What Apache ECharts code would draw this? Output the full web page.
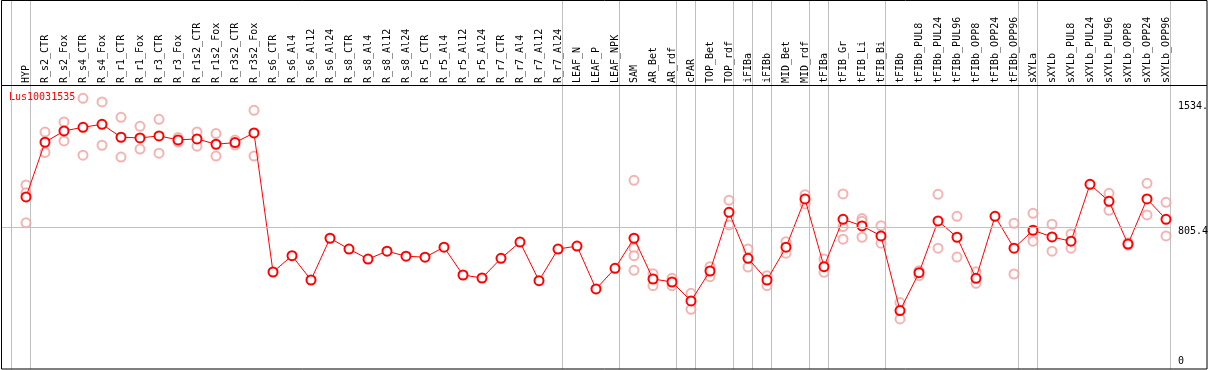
<!DOCTYPE html>
<html>
<head>
<meta charset="utf-8">
<script src="https://cdn.jsdelivr.net/npm/echarts@6/dist/echarts.min.js"></script>
<style>html,body{margin:0;padding:0;background:#fff}#c{width:1209px;height:370px}</style>
</head>
<body>
<div id="c"></div>
<script>
const categories = ["HYP","R_s2_CTR","R_s2_Fox","R_s4_CTR","R_s4_Fox","R_r1_CTR","R_r1_Fox","R_r3_CTR","R_r3_Fox","R_r1s2_CTR","R_r1s2_Fox","R_r3s2_CTR","R_r3s2_Fox","R_s6_CTR","R_s6_Al4","R_s6_Al12","R_s6_Al24","R_s8_CTR","R_s8_Al4","R_s8_Al12","R_s8_Al24","R_r5_CTR","R_r5_Al4","R_r5_Al12","R_r5_Al24","R_r7_CTR","R_r7_Al4","R_r7_Al12","R_r7_Al24","LEAF_N","LEAF_P","LEAF_NPK","SAM","AR_Bet","AR_rdf","cPAR","TOP_Bet","TOP_rdf","iFIBa","iFIBb","MID_Bet","MID_rdf","tFIBa","tFIB_Gr","tFIB_Li","tFIB_Bi","tFIBb","tFIBb_PUL8","tFIBb_PUL24","tFIBb_PUL96","tFIBb_OPP8","tFIBb_OPP24","tFIBb_OPP96","sXYLa","sXYLb","sXYLb_PUL8","sXYLb_PUL24","sXYLb_PUL96","sXYLb_OPP8","sXYLb_OPP24","sXYLb_OPP96"];

const meanValues = [990,1319,1387,1409,1427,1349,1345,1357,1333,1339,1307,1317,1375,
  539,637,491,742,677,617,664,634,628,688,521,503,621,719,487,677,695,437,561,
  742,497,479,365,545,898,621,491,688,978,571,856,816,756,
  307,535,846,748,501,874,682,790,750,724,1066,964,707,978,856];

const replicates = [[1062,1015,835],[1380,1258],[1441,1327],[1583,1241],[1561,1301],[1469,1230],[1415,1278],[1457,1253],[1347,1320],[1381,1295],[1371,1236],[1332,1302],[1511,1236],
  [],[],[],[],[],[],[],[],[],[],[],[],[],[],[],[],[],[],[],
  [1090,682,637,549],[529,457],[501,457],[411,315],[571,511],[970,822],[677,569],[517,457],[721,652],[1004,948],[617,537],[1008,812,736],[860,844,748],[817,712],
  [355,257],[547,517],[1006,682],[874,629],[541,471],[],[832,527],[892,760,724],[826,664],[768,682],[],[1012,910],[715,700],[1072,882],[958,756]];

const separatorsAfter = [-1,0,28,31,34,35,37,38,39,41,42,45,52,53,60];
const axisMarks = [{value:1534, label:"1534."},{value:805.4, label:"805.4"},{value:0, label:"0"}];
const seriesName = "Lus10031535";

const mono = "DejaVu Sans Mono";
const X_MIN = -25/19, X_MAX = 60 + 4/19, Y_MIN = -44, Y_MAX = 2174;
const mainData = meanValues.map((v,i)=>[i,v]);
const repData = [];
replicates.forEach((arr,i)=>arr.forEach(v=>repData.push([i,v])));
const sepLines = separatorsAfter.map(i=>({coords:[[i+4/19,Y_MIN],[i+4/19,Y_MAX]]}));

const chart = echarts.init(document.getElementById('c'), null, {renderer:'canvas'});
chart.setOption({
  animation:false,
  backgroundColor:'#fff',
  title:{text:seriesName,left:9,top:92,padding:0,textStyle:{color:'#ff0000',fontSize:10,fontWeight:'normal',fontFamily:mono}},
  grid:[
    {left:1,right:39,top:0,bottom:1,show:false},
    {left:16.5,right:33.5,top:85,bottom:1,show:false}
  ],
  xAxis:[
    {type:'value',gridIndex:0,min:X_MIN,max:X_MAX,show:false},
    {type:'category',gridIndex:1,position:'top',data:categories,boundaryGap:true,
     axisLine:{show:false},axisTick:{show:false},splitLine:{show:false},
     axisLabel:{rotate:90,interval:0,margin:2,fontSize:10,fontFamily:mono,color:'#000'}}
  ],
  yAxis:[
    {type:'value',gridIndex:0,min:Y_MIN,max:Y_MAX,position:'left',offset:-10,
     axisLine:{show:true,onZero:false,lineStyle:{color:'#c0c0c0',width:1}},
     axisTick:{show:false},axisLabel:{show:false},splitLine:{show:false}},
    {type:'value',gridIndex:1,show:false}
  ],
  graphic:[
    {type:'line',shape:{x1:11.5,y1:0,x2:11.5,y2:369},style:{stroke:'#c0c0c0',lineWidth:1},z:50,silent:true},
    {type:'rect',shape:{x:1.5,y:0.5,width:1205.5,height:368.5},style:{fill:'transparent',stroke:'#000',lineWidth:1},z:100,silent:true},
    {type:'line',shape:{x1:1,y1:85.5,x2:1207,y2:85.5},style:{stroke:'#000',lineWidth:1},z:100,silent:true}
  ],
  series:[
    {type:'lines',coordinateSystem:'cartesian2d',xAxisIndex:0,yAxisIndex:0,data:sepLines,silent:true,z:1,
     lineStyle:{color:'#c0c0c0',width:1,type:'solid',opacity:1}},
    {type:'line',xAxisIndex:0,yAxisIndex:0,data:[],z:1,
     markLine:{silent:true,symbol:'none',animation:false,
       data:axisMarks.map(m=>({yAxis:m.value,
            lineStyle:{color:m.value===805.4?'#c0c0c0':'rgba(0,0,0,0)',width:1,type:'solid'},
            label:{show:true,position:'end',distance:8,formatter:m.label,color:'#000',fontSize:10,fontFamily:mono,
                   offset:m.value===805.4?[0,4]:[0,0]}}))}},
    {type:'scatter',xAxisIndex:0,yAxisIndex:0,data:repData,symbol:'emptyCircle',symbolSize:9,
     itemStyle:{color:'#f0a0a0',borderWidth:1.5},z:2},
    {type:'line',xAxisIndex:0,yAxisIndex:0,data:mainData,symbol:'emptyCircle',symbolSize:9,showAllSymbol:true,
     lineStyle:{color:'#ff0000',width:1},itemStyle:{color:'#ff0000',borderWidth:1.8},z:3}
  ]
});
</script>
</body>
</html>
